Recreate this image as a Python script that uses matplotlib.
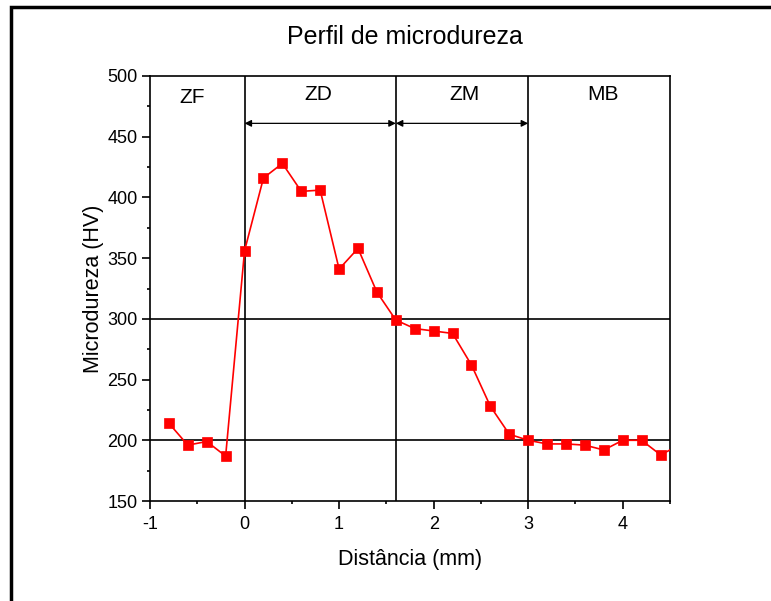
import numpy as np
import matplotlib.pyplot as plt
from matplotlib.patches import Rectangle
from matplotlib.ticker import MultipleLocator

plt.rcParams['font.family'] = ['Liberation Sans', 'DejaVu Sans']
plt.rcParams['axes.unicode_minus'] = False

# dados do perfil de microdureza
dist = [-0.8, -0.6, -0.4, -0.2, 0.0, 0.2, 0.4, 0.6, 0.8, 1.0, 1.2, 1.4, 1.6, 1.8,
        2.0, 2.2, 2.4, 2.6, 2.8, 3.0, 3.2, 3.4, 3.6, 3.8, 4.0, 4.2, 4.4, 4.6]
hv = [214, 196, 199, 187, 356, 416, 428, 405, 406, 341, 358, 322, 299, 292,
      290, 288, 262, 228, 205, 200, 197, 197, 196, 192, 200, 200, 188, 196]

zonas = ['ZF', 'ZD', 'ZM', 'MB']
zonas_x = [-0.55, 0.78, 2.33, 3.79]
zonas_y = [482, 485, 485, 485]
limites = [0, 1.6, 3]
niveis = [300, 200]

fig = plt.figure(figsize=(7.71, 6.01), dpi=100)
ax = fig.add_axes([150/771, 1 - 501/601, 520/771, 425/601])

for xv in limites:
    ax.axvline(xv, color='black', lw=1.2, zorder=1)
for yv in niveis:
    ax.axhline(yv, color='black', lw=1.2, zorder=1)

ax.plot(dist, hv, color='red', lw=1.2, marker='s', ms=7.5,
        mfc='red', mec='red', mew=0.5, zorder=3)

# setas das zonas
for a, b in [(0, 1.6), (1.6, 3)]:
    ax.annotate('', xy=(b, 461), xytext=(a, 461),
                arrowprops=dict(arrowstyle='<|-|>', color='black', lw=0.9,
                                mutation_scale=10, shrinkA=0, shrinkB=0))

for nome, xz, yz in zip(zonas, zonas_x, zonas_y):
    ax.text(xz, yz, nome, ha='center', va='center', fontsize=15)

ax.set_xlim(-1, 4.5)
ax.set_ylim(150, 500)
ax.xaxis.set_major_locator(MultipleLocator(1))
ax.xaxis.set_minor_locator(MultipleLocator(0.5))
ax.yaxis.set_major_locator(MultipleLocator(50))
ax.yaxis.set_minor_locator(MultipleLocator(25))
ax.tick_params(which='major', direction='out', length=5.5, width=1.2, labelsize=13)
ax.tick_params(axis='x', which='major', pad=5)
ax.tick_params(which='minor', direction='out', length=2.5, width=1.2)
for s in ax.spines.values():
    s.set_linewidth(1.2)

ax.set_xlabel('Distância (mm)', fontsize=15.5, labelpad=12)
ax.set_ylabel('Microdureza (HV)', fontsize=15.5, labelpad=2)
fig.text(405/771, 1 - 37/601, 'Perfil de microdureza', ha='center', va='center', fontsize=18)

# moldura em volta da figura
fig.patches.append(Rectangle((11/771, -0.1), 1.2, 1.1 - 7/601, transform=fig.transFigure,
                             fill=False, edgecolor='black', lw=2.5, clip_on=False))

fig.savefig('out.png', dpi=100)
